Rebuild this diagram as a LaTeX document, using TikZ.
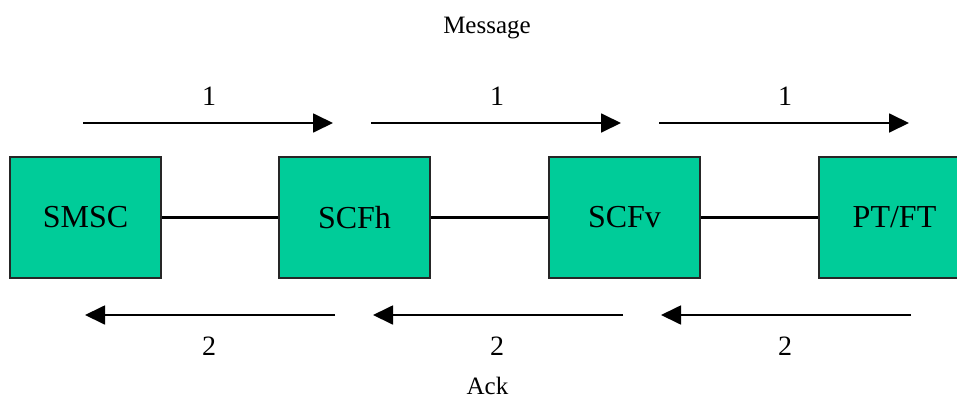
\documentclass[tikz,border=0pt]{standalone}
\usepackage{fontspec}
\setmainfont{Liberation Serif}
\usetikzlibrary{arrows.meta}
\definecolor{boxgreen}{RGB}{0,204,153}
\tikzset{
  entity/.style={draw=black!85, line width=1.4pt, fill=boxgreen, minimum width=151pt, minimum height=121pt, inner sep=0pt, font=\fontsize{32}{36}\selectfont},
  link/.style={line width=2.2pt},
  flow/.style={line width=1.8pt, -{Triangle[length=20pt,width=19pt]}},
  digit/.style={anchor=base, font=\fontsize{28}{32}\selectfont},
  caption/.style={anchor=base, font=\fontsize{25}{30}\selectfont}
}
\begin{document}
\begin{tikzpicture}[x=1pt,y=-1pt]
\useasboundingbox (0,0) rectangle (957,399);
\clip (0,0) rectangle (957,399);
\fill[white] (0,0) rectangle (957,399);
\node[entity] (smsc) at (85.5,217.5) {SMSC};
\node[entity] (scfh) at (354.5,217.5) {SCFh};
\node[entity] (scfv) at (624.5,217.5) {SCFv};
\node[entity] (ptft) at (894.5,217.5) {PT/FT};
\draw[link] (smsc) -- (scfh);
\draw[link] (scfh) -- (scfv);
\draw[link] (scfv) -- (ptft);
% top arrows
\coordinate (t1s) at (83,123); \coordinate (t1e) at (333,123);
\coordinate (t2s) at (371,123); \coordinate (t2e) at (621,123);
\coordinate (t3s) at (659,123); \coordinate (t3e) at (909,123);
\draw[flow] (t1s) -- (t1e);
\draw[flow] (t2s) -- (t2e);
\draw[flow] (t3s) -- (t3e);
\node[digit] (l1a) at (209,105) {1};
\node[digit] (l1b) at (497,105) {1};
\node[digit] (l1c) at (785,105) {1};
% bottom arrows
\coordinate (b1s) at (335,315); \coordinate (b1e) at (85,315);
\coordinate (b2s) at (623,315); \coordinate (b2e) at (373,315);
\coordinate (b3s) at (911,315); \coordinate (b3e) at (661,315);
\draw[flow] (b1s) -- (b1e);
\draw[flow] (b2s) -- (b2e);
\draw[flow] (b3s) -- (b3e);
\node[digit] (l2a) at (209,355) {2};
\node[digit] (l2b) at (497,355) {2};
\node[digit] (l2c) at (785,355) {2};
\node[caption] (msg) at (487,33) {Message};
\node[caption] (ack) at (487.5,394) {Ack};
\end{tikzpicture}
\end{document}
